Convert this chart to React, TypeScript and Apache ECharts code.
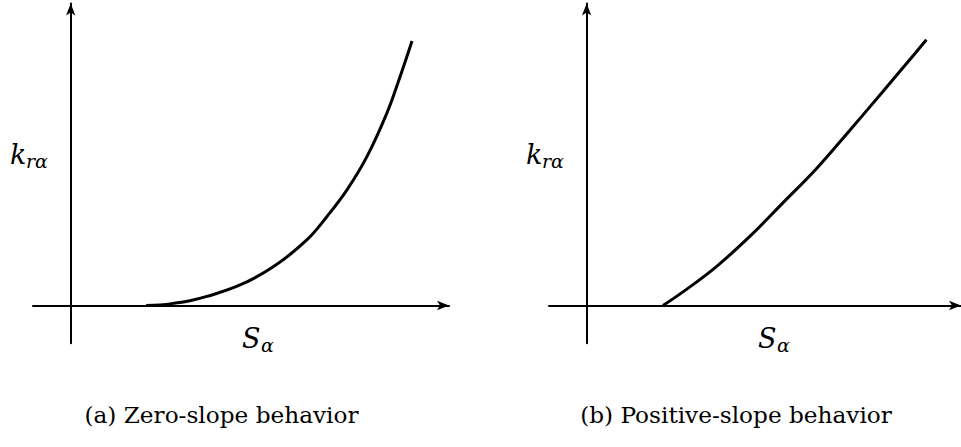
import React, { useEffect, useRef } from "react";
import * as echarts from "echarts";

// Saturation S_α against relative permeability k_rα, two idealised behaviours.
const S_ZERO = [0.2, 0.237, 0.272, 0.316, 0.361, 0.449, 0.537, 0.626, 0.679, 0.732, 0.785, 0.838, 0.873, 0.905];
const K_ZERO = [0, 0.002, 0.007, 0.016, 0.03, 0.068, 0.128, 0.217, 0.294, 0.382, 0.492, 0.636, 0.757, 0.876];
const S_POS = [0.203, 0.256, 0.345, 0.433, 0.521, 0.61, 0.698, 0.787, 0.875, 0.903];
const K_POS = [0, 0.045, 0.129, 0.228, 0.339, 0.452, 0.578, 0.708, 0.838, 0.88];

const CAPTIONS = ["(a) Zero-slope behavior", "(b) Positive-slope behavior"];
const Y_NAME = ["k", "rα"];
const X_NAME = ["S", "α"];

const SERIF = "'DejaVu Serif'";
const INK = "#000";

const zip = (xs: number[], ys: number[]) => xs.map((x, i) => [x, ys[i]]);

const axisLine = (arrowSize: number[]) => ({
  onZero: true,
  symbol: ["none", "arrow"],
  symbolSize: arrowSize,
  lineStyle: { color: INK, width: 2 },
});

const hiddenParts = {
  axisTick: { show: false },
  axisLabel: { show: false },
  splitLine: { show: false },
};

const label = (text: string, x: number, y: number, size: number, italic: boolean, align = "left") => ({
  type: "text",
  x,
  y,
  style: {
    text,
    font: `${italic ? "italic" : "normal"} normal ${size}px ${SERIF}`,
    fill: INK,
    verticalAlign: "middle",
    align,
  },
});

const App: React.FC = () => {
  const ref = useRef<HTMLDivElement>(null);

  useEffect(() => {
    if (!ref.current) return;
    const chart = echarts.init(ref.current, null, { renderer: "svg" });

    const panels = [
      { left: 33, width: 416, xMax: 1.003, dx: 0, cap: 221.5 },
      { left: 549, width: 412.7, xMax: 0.995, dx: 516, cap: 736 },
    ];

    const texts: any[] = [];
    panels.forEach((p, i) => {
      texts.push(label(Y_NAME[0], 10 + p.dx, 154.5, 27, true));
      texts.push(label(Y_NAME[1], 26 + p.dx, 160.5, 19, true));
      texts.push(label(X_NAME[0], 242 + p.dx, 338.5, 27, true));
      texts.push(label(X_NAME[1], 261 + p.dx, 345, 19, true));
      texts.push(label(CAPTIONS[i], p.cap, 414, 23.2, false, "center"));
    });

    chart.setOption({
      animation: false,
      backgroundColor: "#fff",
      grid: panels.map((p) => ({ left: p.left, top: 3.5, width: p.width, height: 339.75, containLabel: false })),
      xAxis: panels.map((p, i) => ({
        type: "value",
        gridIndex: i,
        min: -0.1,
        max: p.xMax,
        axisLine: axisLine([7, 12]),
        ...hiddenParts,
      })),
      yAxis: panels.map((_p, i) => ({
        type: "value",
        gridIndex: i,
        min: -0.125,
        max: 1.0,
        axisLine: axisLine([7, 12]),
        ...hiddenParts,
      })),
      series: [
        {
          type: "line",
          xAxisIndex: 0,
          yAxisIndex: 0,
          data: zip(S_ZERO, K_ZERO),
          smooth: 0.4,
          showSymbol: false,
          lineStyle: { color: INK, width: 3 },
          z: 3,
        },
        {
          type: "line",
          xAxisIndex: 1,
          yAxisIndex: 1,
          data: zip(S_POS, K_POS),
          smooth: 0.4,
          showSymbol: false,
          lineStyle: { color: INK, width: 3 },
          z: 3,
        },
      ],
      graphic: texts,
    });

    return () => chart.dispose();
  }, []);

  return (
    <div
      ref={ref}
      style={{ position: "absolute", left: 0, top: 0, width: 961, height: 447, background: "#fff" }}
    />
  );
};

export default App;
